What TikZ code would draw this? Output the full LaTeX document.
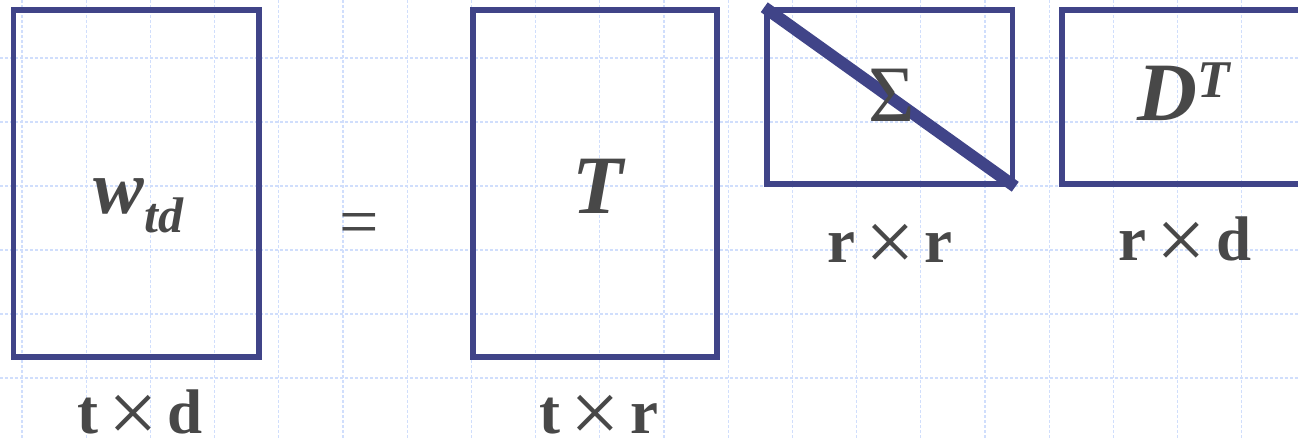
\documentclass[tikz,border=0pt]{standalone}
\usepackage{fontspec}
\setmainfont{Liberation Serif}
\usetikzlibrary{positioning}
\definecolor{GridBlue}{RGB}{208, 222, 252}
\definecolor{BoxBlue}{RGB}{64, 68, 136}
\definecolor{TextGray}{RGB}{72, 72, 72}
\newcommand{\bytimes}{\hspace{0.16em}\raisebox{-9pt}{\fontsize{88}{90}\selectfont ×}\hspace{0.16em}}

\begin{document}
\begin{tikzpicture}[x=1pt, y=-1pt,
		gridline/.style={GridBlue, line width=1.2pt, dash pattern=on 3pt off 2pt},
		matbox/.style={draw=BoxBlue, line width=5.5pt, inner sep=0pt},
		entry/.style={TextGray, anchor=base, inner sep=0pt, font=\fontsize{83}{90}\selectfont\bfseries\itshape},
		dimlabel/.style={TextGray, anchor=base, inner sep=0pt, font=\fontsize{63}{70}\selectfont}
	]
		\useasboundingbox (0,0) rectangle (1298,439);
		\fill[white] (0,0) rectangle (1298,439);
		% background grid
		\foreach \i in {0,...,19}
			\draw[gridline] ({22+64.2*\i},0) -- ({22+64.2*\i},439);
		\foreach \j in {0,...,5}
			\draw[gridline] (0,{58+64*\j}) -- (1298,{58+64*\j});
		% matrices
		\node[matbox, minimum width=245.5pt, minimum height=347pt] (W) at (136.25,183.5) {};
		\node[matbox, minimum width=244pt, minimum height=347pt] (T) at (595,183.5) {};
		\node[matbox, minimum width=245.5pt, minimum height=174pt] (S) at (889.75,97) {};
		\node[matbox, minimum width=248pt, minimum height=174pt] (D) at (1186,97) {};
		\draw[BoxBlue, line width=12pt] (S.north west) -- (S.south east);
		% entries
		\node[entry, font=\fontsize{76}{80}\selectfont\bfseries\itshape] (wtd) at (138.5,213) {w\raisebox{-19pt}{\fontsize{50}{55}\selectfont td}};
		\node[entry] (tmat) at (598,213) {T};
		\node[TextGray, anchor=base, inner sep=0pt, font=\fontsize{80}{88}\selectfont] (sigma) at (892,121) {Σ};
		\node[entry] (dmat) at (1184,120) {D\raisebox{23pt}{\fontsize{53}{58}\selectfont T}};
		\node[TextGray, font=\fontsize{70}{80}\selectfont] (eq) at (359,230) {=};
		% sizes
		\node[dimlabel] (wdim) at (140,433) {\textbf{t}\bytimes\textbf{d}};
		\node[dimlabel] (tdim) at (599,433) {\textbf{t}\bytimes\textbf{r}};
		\node[dimlabel] (sdim) at (890,262) {\textbf{r}\bytimes\textbf{r}};
		\node[dimlabel] (ddim) at (1185,260) {\textbf{r}\bytimes\textbf{d}};
	\end{tikzpicture}
\end{document}
